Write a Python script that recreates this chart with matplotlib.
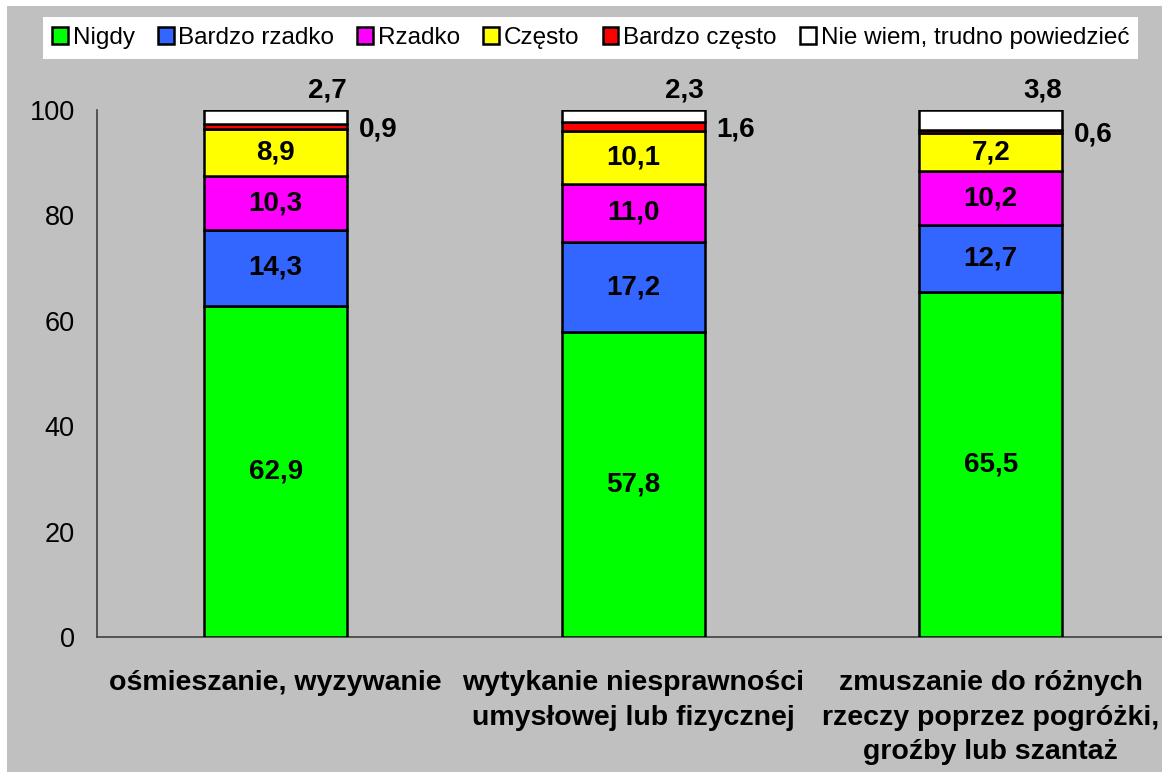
import matplotlib
matplotlib.use("Agg")
import matplotlib.pyplot as plt
from matplotlib.patches import Patch, Rectangle

plt.rcParams['font.family'] = ['Liberation Sans', 'DejaVu Sans']

categories = ["ośmieszanie, wyzywanie",
              "wytykanie niesprawności\numysłowej lub fizycznej",
              "zmuszanie do różnych\nrzeczy poprzez pogróżki,\ngroźby lub szantaż"]
series_names = ["Nigdy", "Bardzo rzadko", "Rzadko", "Często", "Bardzo często",
                "Nie wiem, trudno powiedzieć"]
nigdy = [62.9, 57.8, 65.5]
bardzo_rzadko = [14.3, 17.2, 12.7]
rzadko = [10.3, 11.0, 10.2]
czesto = [8.9, 10.1, 7.2]
bardzo_czesto = [0.9, 1.6, 0.6]
nie_wiem = [2.7, 2.3, 3.8]
yticks = [0, 20, 40, 60, 80, 100]

series = [nigdy, bardzo_rzadko, rzadko, czesto, bardzo_czesto, nie_wiem]
colors = ["#00FF00", "#3366FF", "#FF00FF", "#FFFF00", "#FF0000", "#FFFFFF"]

W, H = 1162, 772
fig = plt.figure(figsize=(W / 100, H / 100), dpi=100)
fig.patch.set_facecolor("white")
# grey chart area
fig.patches.append(Rectangle((7 / W, 0), 1, 1 - 6 / H, transform=fig.transFigure,
                             facecolor="#C0C0C0", edgecolor="none", zorder=-10))
# white legend box
fig.patches.append(Rectangle((43 / W, 1 - 59 / H), (1138 - 43) / W, 42 / H,
                             transform=fig.transFigure, facecolor="white",
                             edgecolor="none", zorder=-5))

left = 97 / W
bottom = (H - 637) / H
top = (H - 110) / H
ax = fig.add_axes([left, bottom, 3 * 357.5 / W, top - bottom])
ax.set_facecolor("none")

x = list(range(len(categories)))
width = 0.4
bottoms = [0.0] * len(categories)
for vals, col, name in zip(series, colors, series_names):
    ax.bar(x, vals, width, bottom=bottoms, color=col, edgecolor="black",
           linewidth=1.8, label=name, zorder=3)
    bottoms = [bt + v for bt, v in zip(bottoms, vals)]

def fmt(v):
    return f"{v:.1f}".replace(".", ",")

cum = [0.0] * len(categories)
for si, vals in enumerate(series):
    for i, v in enumerate(vals):
        center = cum[i] + v / 2
        if si < 4:
            ax.text(x[i], center, fmt(v), ha="center", va="center",
                    fontsize=20, fontweight="bold", color="black", zorder=5)
        elif si == 4:
            ax.annotate(fmt(v), (x[i] + width / 2, center), xytext=(31, -3),
                        textcoords="offset pixels", ha="center", va="center",
                        fontsize=20, fontweight="bold", zorder=5,
                        annotation_clip=False)
        else:
            ax.annotate(fmt(v), (x[i] + width / 2, cum[i] + v), xytext=(-20, 19),
                        textcoords="offset pixels", ha="center", va="center",
                        fontsize=20, fontweight="bold", zorder=5,
                        annotation_clip=False)
    cum = [c + v for c, v in zip(cum, vals)]

ax.set_xlim(-0.5, 2.5)
ax.set_ylim(0, 100)
ax.set_yticks(yticks)
ax.set_yticklabels([str(t) for t in yticks], fontsize=19.5)
ax.set_xticks(x)
ax.set_xticklabels(categories, fontsize=20.5, fontweight="bold", linespacing=1.42)
ax.tick_params(axis="y", length=0, pad=16)
ax.tick_params(axis="x", length=0, pad=24)
for s in ["top", "right"]:
    ax.spines[s].set_visible(False)
for s in ["left", "bottom"]:
    ax.spines[s].set_color("#404040")
    ax.spines[s].set_linewidth(1.2)

handles = [Patch(facecolor=c, edgecolor="black", linewidth=1.8) for c in colors]
fig.legend(handles, series_names, loc="center", ncol=6,
           bbox_to_anchor=((43 + 1138) / 2 / W, 1 - 38 / H),
           frameon=False, fontsize=17.5, handlelength=0.65, handleheight=0.65,
           handletextpad=0.2, columnspacing=0.95, borderpad=0)

fig.savefig("out.png", dpi=100)
